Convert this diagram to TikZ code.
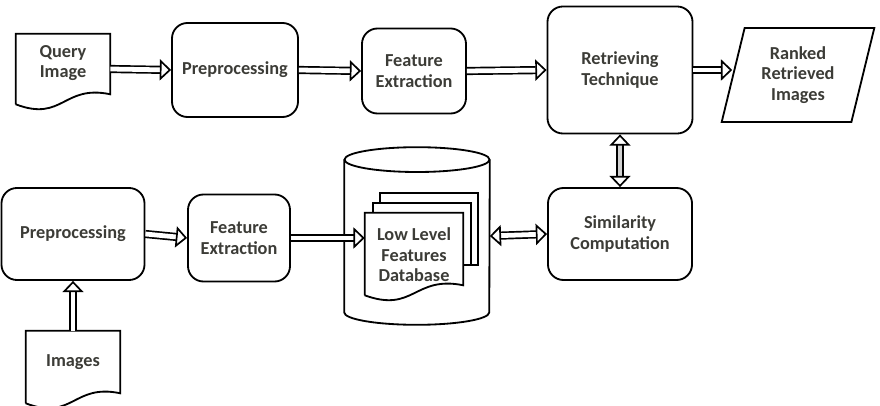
\documentclass[tikz,border=0pt]{standalone}
\usepackage{fontspec}
\setmainfont{Carlito}
\usetikzlibrary{arrows.meta,positioning,shapes.geometric,calc}
\definecolor{txtgray}{RGB}{60,60,55}

% wavy bottom of a document box
\newcommand{\docoutline}[1]{%
  \draw[docline] (#1.south west) -- (#1.north west) -- (#1.north east) -- ([yshift=2.5mm]#1.south east)
    .. controls ($(#1.south west)!0.5!(#1.south east)+(0cm,0.5cm)$) and ($(#1.south west)!0.5!(#1.south east)+(0cm,-0.45cm)$) .. (#1.south west);}

\tikzset{
  docline/.style={line width=1.3pt, fill=white},
  txt/.style={font=\fontsize{13}{14.5}\selectfont\bfseries, text=txtgray, align=center},
  roundbox/.style={txt, draw, line width=1.3pt, rounded corners=11pt},
  docbox/.style={txt, inner sep=0pt},
  backdoc/.style={draw, line width=1.3pt, fill=white, minimum width=2.45cm},
  flow/.style={double, double distance=3.4pt, line width=1.2pt, -{Triangle[length=8pt, width=15pt, fill=white, line width=1.2pt]}},
  twoway/.style={double, double distance=3.4pt, line width=1.2pt,
    {Triangle[length=8pt, width=15pt, fill=white, line width=1.2pt]}-{Triangle[length=8pt, width=15pt, fill=white, line width=1.2pt]}}
}

\begin{document}
\begin{tikzpicture}[x=0.025cm, y=-0.025cm]
  \useasboundingbox (0,0) rectangle (880,406);

  % query side
  \node[docbox, minimum width=2.35cm, minimum height=1.75cm] (qry) at (63,69) {};
  \docoutline{qry}
  \node[docbox] at (63,63) {Query\\Image};

  \node[roundbox, minimum width=3.15cm, minimum height=2.35cm] (pre1) at (235,70) {Preprocessing};
  \node[roundbox, minimum width=2.6cm, minimum height=2.125cm] (fe1) at (414,71) {Feature\\Extraction};
  \node[roundbox, minimum width=3.625cm, minimum height=3.175cm] (ret) at (620,70) {Retrieving\\Technique};
  \node[txt, draw, line width=1.3pt, trapezium, trapezium left angle=75, trapezium right angle=105,
        trapezium stretches=true, minimum width=3.825cm, minimum height=2.35cm] (rank) at (798,75) {Ranked\\Retrieved\\Images};

  % database side
  \node[roundbox, minimum width=3.575cm, minimum height=2.3cm] (pre2) at (73,234) {Preprocessing};
  \node[roundbox, minimum width=2.55cm, minimum height=2.175cm] (fe2) at (239,238) {Feature\\Extraction};
  \node[minimum width=3.625cm, minimum height=4.425cm, inner sep=0pt] (db) at (417,236) {};
  \draw[line width=1.3pt] ([yshift=-0.31cm]db.north west) -- ([yshift=0.31cm]db.south west)
    arc[start angle=180, end angle=360, x radius=1.8125cm, y radius=0.31cm] -- ([yshift=-0.31cm]db.north east);
  \draw[line width=1.3pt] ([yshift=-0.31cm]db.north) ellipse[x radius=1.8125cm, y radius=0.31cm];
  \node[backdoc, minimum height=1.8cm] (ldb3) at (429,229) {};
  \node[backdoc, minimum height=1.55cm] (ldb2) at (422,234) {};
  \node[docbox, minimum width=2.45cm, minimum height=2.05cm] (ldb1) at (414,254) {};
  \docoutline{ldb1}
  \node[docbox] at (414,255) {Low Level\\Features\\Database};
  \node[roundbox, minimum width=3.6cm, minimum height=2.3cm] (sim) at (620,234) {Similarity\\Computation};

  \node[docbox, minimum width=2.35cm, minimum height=1.8cm] (img) at (73,367) {};
  \docoutline{img}
  \node[docbox] at (73,362) {Images};

  % connectors
  \draw[flow] (qry.east) -- (pre1.west);
  \draw[flow] (pre1.east) -- (fe1.west);
  \draw[flow] (fe1.east) -- (ret.west);
  \draw[flow] (ret.east) -- (ret.east -| rank.west);
  \draw[twoway, double=gray!35] (ret.south) -- (sim.north);
  \draw[flow] (pre2.east) -- (fe2.west);
  \draw[flow] (fe2.east) -- (fe2.east -| ldb1.west);
  \draw[twoway] (db.east) -- (sim.west);
  \draw[flow] (img.north) -- (pre2.south);
\end{tikzpicture}
\end{document}
